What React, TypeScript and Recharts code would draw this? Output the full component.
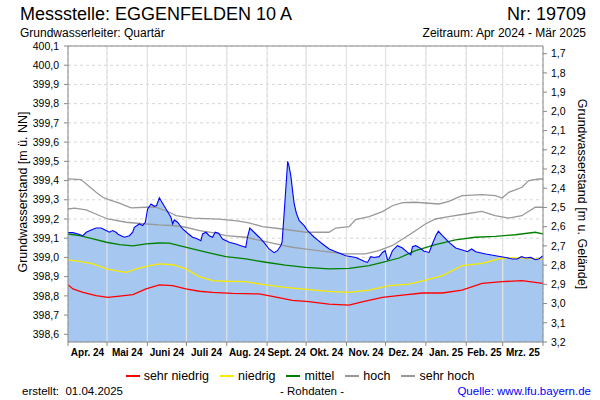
import React from 'react';
import { ComposedChart, Area, Line, XAxis, YAxis, CartesianGrid, ReferenceLine } from 'recharts';

const FONT = '"Liberation Sans", Arial, Helvetica, sans-serif';

// time axis: days since 01.04.2024
const monthStartDays = [0, 30, 61, 91, 122, 153, 183, 214, 244, 275, 306, 334, 365];
const monthLabels = ['Apr. 24', 'Mai 24', 'Juni 24', 'Juli 24', 'Aug. 24', 'Sept. 24', 'Okt. 24', 'Nov. 24', 'Dez. 24', 'Jan. 25', 'Feb. 25', 'Mrz. 25'];
const levelTicks = [398.6, 398.7, 398.8, 398.9, 399.0, 399.1, 399.2, 399.3, 399.4, 399.5, 399.6, 399.7, 399.8, 399.9, 400.0, 400.1];
const depthTicks = [1.7, 1.8, 1.9, 2.0, 2.1, 2.2, 2.3, 2.4, 2.5, 2.6, 2.7, 2.8, 2.9, 3.0, 3.1, 3.2];
const groundLevel = 401.76;
const levelMin = 398.56;
const levelMax = 400.1;

// measured groundwater level (Rohdaten)
const levelDays = [0, 3.8, 7.7, 11.5, 14, 17.8, 21.6, 25.4, 29.3, 31.8, 34.3, 36.9, 38.2, 40.8, 43.3, 47.2, 49.7, 51, 54.8, 57.4, 59.4, 61.2, 63.8, 66.3, 68.1, 70.2, 72.2, 75.3, 79.1, 80.4, 81.7, 84.2, 88.1, 91.9, 95.7, 99.6, 102.1, 103.4, 106, 108.5, 111.1, 113.1, 115.7, 118.8, 123.9, 129, 132.8, 136.6, 137.9, 139.7, 143, 146.9, 150.7, 154.5, 158.4, 160.9, 163.5, 164.5, 166, 167.4, 168.8, 170, 171.3, 172.5, 173.8, 175.5, 177.7, 181.5, 184.1, 189.2, 191.7, 195.6, 200.7, 207.1, 213.5, 221.2, 227.6, 230.1, 232.7, 235.2, 239.1, 241.6, 243.7, 245.5, 246.8, 249.3, 253.2, 257, 260.9, 263.4, 264.7, 267.2, 269.8, 273.6, 277.5, 280, 282.6, 284.6, 287.7, 292.8, 297.9, 303, 306.9, 310.2, 313.3, 321, 328.6, 336.3, 341.4, 345.2, 348.5, 351.6, 355.4, 359.3, 361.8, 365];
const levelValues = [399.13, 399.129, 399.122, 399.113, 399.131, 399.143, 399.153, 399.153, 399.14, 399.131, 399.14, 399.131, 399.122, 399.113, 399.105, 399.113, 399.131, 399.157, 399.174, 399.166, 399.183, 399.252, 399.278, 399.266, 399.27, 399.31, 399.287, 399.252, 399.209, 399.174, 399.195, 399.183, 399.148, 399.126, 399.105, 399.096, 399.087, 399.122, 399.131, 399.113, 399.105, 399.131, 399.126, 399.096, 399.079, 399.07, 399.061, 399.053, 399.105, 399.153, 399.131, 399.105, 399.077, 399.044, 399.025, 399.035, 399.061, 399.08, 399.22, 399.36, 399.5, 399.47, 399.42, 399.35, 399.28, 399.23, 399.191, 399.165, 399.139, 399.105, 399.091, 399.07, 399.044, 399.026, 399.009, 399.0, 398.98, 398.974, 399.004, 399.0, 399.004, 399.026, 399.035, 398.988, 398.992, 399.035, 399.061, 399.049, 399.026, 399.014, 399.056, 399.061, 399.052, 399.032, 399.026, 399.07, 399.113, 399.136, 399.113, 399.078, 399.049, 399.039, 399.03, 399.044, 399.03, 399.018, 399.009, 399.0, 398.992, 398.992, 399.004, 398.997, 399.0, 398.988, 398.992, 399.009];

const sehrHochDays = [0, 10, 21.6, 26.7, 31.8, 39.5, 48.4, 60, 67.6, 77.9, 83, 95.7, 116, 130, 139, 149.4, 164.8, 182.7, 200.6, 205.7, 216, 221, 231.4, 241.6, 249.3, 257, 267, 285, 292.6, 302.8, 318.2, 328.4, 333.6, 338.7, 348.9, 354, 361.7, 365];
const sehrHochValues = [399.409, 399.405, 399.339, 399.313, 399.299, 399.282, 399.258, 399.261, 399.261, 399.235, 399.218, 399.205, 399.199, 399.19, 399.18, 399.16, 399.148, 399.131, 399.131, 399.153, 399.16, 399.197, 399.212, 399.238, 399.269, 399.285, 399.287, 399.278, 399.292, 399.322, 399.327, 399.322, 399.309, 399.339, 399.365, 399.4, 399.408, 399.408];

const hochDays = [0, 5, 14, 24, 30.6, 44.6, 60, 70, 80, 90.6, 101, 113.6, 121.3, 136.6, 152, 165, 172.4, 183, 203, 213.3, 228.6, 238.8, 249, 259.3, 267, 274.6, 282.3, 292.5, 305.3, 318, 328.2, 338.5, 348.7, 359, 365];
const hochValues = [399.252, 399.256, 399.247, 399.218, 399.2, 399.183, 399.174, 399.169, 399.166, 399.157, 399.139, 399.126, 399.113, 399.105, 399.082, 399.063, 399.053, 399.043, 399.026, 399.018, 399.018, 399.035, 399.061, 399.105, 399.139, 399.174, 399.2, 399.212, 399.226, 399.24, 399.217, 399.205, 399.217, 399.261, 399.261];

const mittelDays = [0, 9, 19.3, 29.5, 39.7, 49.9, 60, 70.2, 77.9, 85.5, 95.7, 106, 121.3, 136.6, 152, 167, 182.6, 200.5, 216, 231.4, 241.6, 254.4, 267, 282.4, 297.7, 313, 328.4, 343.7, 359, 365];
const mittelValues = [399.122, 399.113, 399.096, 399.079, 399.067, 399.06, 399.07, 399.075, 399.074, 399.061, 399.044, 399.027, 399.004, 398.992, 398.975, 398.96, 398.948, 398.94, 398.943, 398.957, 398.974, 398.997, 399.035, 399.066, 399.091, 399.105, 399.11, 399.118, 399.131, 399.122];

const niedrigDays = [0, 9, 19.3, 29.5, 39.7, 44.8, 52.5, 60, 70.2, 80.4, 90.6, 100.9, 111, 121.3, 136.6, 152, 167, 182.6, 200.5, 216, 231.4, 246.7, 262, 274.8, 287.6, 302.8, 318.2, 333.5, 348.9, 361.7, 365];
const niedrigValues = [398.987, 398.98, 398.966, 398.94, 398.928, 398.922, 398.94, 398.954, 398.966, 398.962, 398.94, 398.9, 398.879, 398.876, 398.874, 398.857, 398.844, 398.834, 398.823, 398.818, 398.83, 398.853, 398.861, 398.882, 398.905, 398.957, 398.969, 398.997, 398.997, 398.992, 398.99];

const sehrNiedrigDays = [0, 3.8, 11.5, 21.6, 30.6, 39.7, 49.9, 60, 70.2, 80.4, 90.6, 100.9, 111, 126.4, 146.9, 157, 172.4, 185, 200.5, 216, 226, 241.6, 257, 272.4, 287.6, 302.8, 318.2, 333.5, 348.9, 359, 365];
const sehrNiedrigValues = [398.858, 398.836, 398.818, 398.801, 398.792, 398.799, 398.806, 398.836, 398.857, 398.853, 398.836, 398.824, 398.818, 398.813, 398.81, 398.797, 398.777, 398.77, 398.757, 398.752, 398.769, 398.792, 398.804, 398.815, 398.815, 398.83, 398.865, 398.874, 398.879, 398.87, 398.865];

const toPoints = (days: number[], values: number[]) => days.map((d, i) => ({ day: d, value: values[i] }));

const statSeries = [
  { name: 'sehr niedrig', color: '#ff0000', days: sehrNiedrigDays, values: sehrNiedrigValues },
  { name: 'niedrig', color: '#f8ea00', days: niedrigDays, values: niedrigValues },
  { name: 'mittel', color: '#008000', days: mittelDays, values: mittelValues },
  { name: 'hoch', color: '#999999', days: hochDays, values: hochValues },
  { name: 'sehr hoch', color: '#999999', days: sehrHochDays, values: sehrHochValues },
];

const PLOT_LEFT = 68;
const PLOT_RIGHT_W = 57;
const PLOT_W = 600 - PLOT_LEFT - PLOT_RIGHT_W;
const PX_PER_DAY = PLOT_W / 365;

const fmt = (v: number) => v.toFixed(1).replace('.', ',');

function MonthTick(props: any) {
  const { x, y, payload } = props;
  const i = monthStartDays.indexOf(payload.value);
  if (i < 0 || i >= monthLabels.length) return null;
  const mid = x + ((monthStartDays[i + 1] - monthStartDays[i]) / 2) * PX_PER_DAY;
  return (
    <text x={mid} y={y} dy="0.71em" textAnchor="middle" fontSize={10} fontWeight="bold" fill="#000" fontFamily={FONT}>
      {monthLabels[i]}
    </text>
  );
}

export default function App() {
  return (
    <div style={{ position: 'absolute', left: 0, top: 0, width: 600, height: 400, background: '#fff', fontFamily: FONT }}>
      <ComposedChart width={600} height={400} margin={{ top: 46, right: 0, bottom: 38, left: 0 }}>
        <CartesianGrid yAxisId="left" stroke="#d6d6d6" strokeDasharray="3 3" />
        <XAxis
          dataKey="day"
          type="number"
          domain={[0, 365]}
          ticks={monthStartDays}
          interval={0}
          allowDataOverflow
          height={20}
          tickSize={4}
          tickMargin={3}
          tick={<MonthTick />}
          stroke="#888"
        />
        <YAxis
          yAxisId="left"
          type="number"
          domain={[levelMin, levelMax]}
          ticks={levelTicks}
          interval={0}
          allowDataOverflow
          width={PLOT_LEFT}
          tickSize={4}
          tickMargin={5}
          tickFormatter={fmt}
          tick={{ fontSize: 10.5, fill: '#000', fontFamily: FONT }}
          stroke="#888"
        />
        <YAxis
          yAxisId="right"
          orientation="right"
          type="number"
          domain={[groundLevel - levelMax, groundLevel - levelMin]}
          reversed
          ticks={depthTicks}
          interval={0}
          allowDataOverflow
          width={PLOT_RIGHT_W}
          tickSize={4}
          tickMargin={4}
          tickFormatter={fmt}
          tick={{ fontSize: 10.5, fill: '#000', fontFamily: FONT }}
          stroke="#888"
        />
        <Area
          yAxisId="left"
          data={toPoints(levelDays, levelValues)}
          dataKey="value"
          type="linear"
          stroke="none"
          fill="#a6c8f0"
          fillOpacity={1}
          dot={false}
          activeDot={false}
          isAnimationActive={false}
        />
        {monthStartDays.slice(1, -1).map((d) => (
          <ReferenceLine key={'m' + d} yAxisId="left" x={d} stroke="#e2e2e2" strokeWidth={1.2} />
        ))}
        <ReferenceLine yAxisId="left" y={levelMax} stroke="#888" />
        {statSeries.map((s) => (
          <Line
            key={s.name}
            yAxisId="left"
            data={toPoints(s.days, s.values)}
            dataKey="value"
            name={s.name}
            type="linear"
            stroke={s.color}
            strokeWidth={1.3}
            dot={false}
            activeDot={false}
            isAnimationActive={false}
          />
        ))}
        <Line
          yAxisId="left"
          data={toPoints(levelDays, levelValues)}
          dataKey="value"
          name="Rohdaten"
          type="linear"
          stroke="#0000ff"
          strokeWidth={1.1}
          dot={false}
          activeDot={false}
          isAnimationActive={false}
        />
      </ComposedChart>

      <svg width={600} height={400} style={{ position: 'absolute', left: 0, top: 0, pointerEvents: 'none' }} fontFamily={FONT}>
        <text x={20} y={20} fontSize={18} fill="#000">Messstelle: EGGENFELDEN 10 A</text>
        <text x={586} y={20} fontSize={18} fill="#000" textAnchor="end">Nr: 19709</text>
        <text x={20} y={37} fontSize={12} fill="#000">Grundwasserleiter: Quartär</text>
        <text x={586} y={37} fontSize={12} fill="#000" textAnchor="end">Zeitraum: Apr 2024 - Mär 2025</text>
        <text transform="translate(26.5,192) rotate(-90)" fontSize={12.5} fill="#000" textAnchor="middle">Grundwasserstand [m ü. NN]</text>
        <text transform="translate(578,194) rotate(90)" fontSize={12.5} fill="#000" textAnchor="middle">Grundwasserstand [m u. Gelände]</text>
        <text x={22} y={395} fontSize={11.5} fill="#000" xmlSpace="preserve">erstellt:  01.04.2025</text>
        <text x={312} y={395} fontSize={11.5} fill="#000" textAnchor="middle">- Rohdaten -</text>
        <text x={591} y={395} fontSize={11.5} fill="#0000ff" textAnchor="end">Quelle: www.lfu.bayern.de</text>
      </svg>

      <div style={{ position: 'absolute', left: 0, top: 368, width: 600, display: 'flex', justifyContent: 'center', alignItems: 'center', fontSize: 12.5, lineHeight: '16px', color: '#000' }}>
        {statSeries.map((s, i) => (
          <div key={s.name} style={{ display: 'flex', alignItems: 'center', marginLeft: i === 0 ? 0 : 11 }}>
            <span style={{ display: 'inline-block', width: 14, height: 1.5, background: s.color, marginRight: 4 }} />
            <span>{s.name}</span>
          </div>
        ))}
      </div>
    </div>
  );
}
